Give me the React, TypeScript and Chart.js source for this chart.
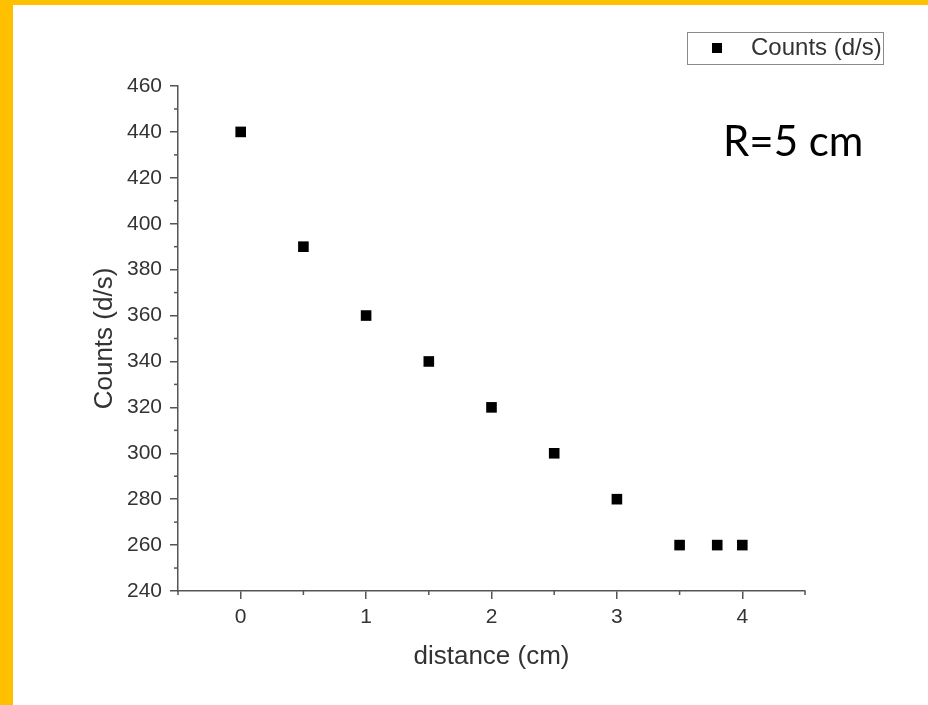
import React, { useEffect, useRef } from "react";
import { Chart, registerables } from "chart.js";

Chart.register(...registerables);

const distances = [0, 0.5, 1, 1.5, 2, 2.5, 3, 3.5, 3.8, 4];
const counts = [440, 390, 360, 340, 320, 300, 280, 260, 260, 260];
const xTickValues = [0, 1, 2, 3, 4];
const xRange = [-0.5, 4.5];
const yRange = [240, 460];
const yStep = 20;
const seriesLabel = "Counts (d/s)";
const xTitle = "distance (cm)";
const yTitle = "Counts (d/s)";
const annotation = "R=5 cm";

const AXIS = "#555555";
const TEXT = "#333333";
const FONT = "'Liberation Sans', Arial, sans-serif";

const decorPlugin = {
  id: "decor",
  beforeDraw(chart: any) {
    const ctx = chart.ctx;
    ctx.save();
    ctx.fillStyle = "#ffffff";
    ctx.fillRect(0, 0, chart.width, chart.height);
    ctx.fillStyle = "#FFC000";
    ctx.fillRect(0, 0, 13, chart.height);
    ctx.fillRect(0, 0, chart.width, 5);
    ctx.restore();
  },
  afterDraw(chart: any) {
    const ctx = chart.ctx;
    const xs = chart.scales.x;
    const ys = chart.scales.y;
    ctx.save();
    ctx.strokeStyle = AXIS;
    ctx.lineWidth = 1.5;
    // minor ticks
    for (let v = yRange[0] + yStep / 2; v < yRange[1]; v += yStep) {
      const py = ys.getPixelForValue(v);
      ctx.beginPath();
      ctx.moveTo(ys.right, py);
      ctx.lineTo(ys.right - 4, py);
      ctx.stroke();
    }
    for (let v = xRange[0]; v <= xRange[1] + 1e-9; v += 1) {
      const px = xs.getPixelForValue(v);
      ctx.beginPath();
      ctx.moveTo(px, xs.top);
      ctx.lineTo(px, xs.top + 4);
      ctx.stroke();
    }
    // legend
    const lx = 687, ly = 32, lw = 196, lh = 32;
    ctx.fillStyle = "#ffffff";
    ctx.fillRect(lx, ly, lw, lh);
    ctx.strokeStyle = "#8a8a8a";
    ctx.lineWidth = 1;
    ctx.strokeRect(lx + 0.5, ly + 0.5, lw, lh);
    ctx.fillStyle = "#000000";
    ctx.fillRect(717 - 5, 48 - 5, 10, 10);
    ctx.fillStyle = TEXT;
    ctx.font = "24px " + FONT;
    ctx.textBaseline = "middle";
    ctx.textAlign = "left";
    ctx.fillText(seriesLabel, 751, 48);
    // annotation
    ctx.fillStyle = "#000000";
    ctx.font = "42px Lato, 'Open Sans', sans-serif";
    ctx.textBaseline = "alphabetic";
    ctx.fillText(annotation, 723, 156);
    ctx.restore();
  },
};

export default function App() {
  const ref = useRef<HTMLCanvasElement>(null);
  useEffect(() => {
    if (!ref.current) return;
    const chart = new Chart(ref.current, {
      type: "scatter",
      data: {
        datasets: [
          {
            label: seriesLabel,
            data: distances.map((d, i) => ({ x: d, y: counts[i] })),
            pointStyle: "rect",
            pointRadius: 7.5,
            pointHoverRadius: 7.5,
            backgroundColor: "#000000",
            borderColor: "#000000",
            borderWidth: 0,
          },
        ],
      },
      options: {
        responsive: false,
        animation: false,
        events: [],
        layout: { padding: { left: 86, top: 86, right: 123, bottom: 0 } },
        plugins: { legend: { display: false }, tooltip: { enabled: false } },
        scales: {
          x: {
            type: "linear",
            min: xRange[0],
            max: xRange[1],
            afterBuildTicks: (s: any) => {
              s.ticks = xTickValues.map((v) => ({ value: v }));
            },
            afterFit: (s: any) => {
              s.height = 114;
            },
            grid: {
              display: true,
              drawOnChartArea: false,
              drawTicks: true,
              tickLength: 8,
              color: AXIS,
              lineWidth: 1.5,
            },
            border: { display: true, color: AXIS, width: 1.5 },
            ticks: {
              padding: 6,
              color: TEXT,
              font: { family: FONT, size: 21 },
            },
            title: {
              display: true,
              text: xTitle,
              color: TEXT,
              font: { family: FONT, size: 26 },
              padding: { top: 0, bottom: 33 },
            },
          },
          y: {
            type: "linear",
            min: yRange[0],
            max: yRange[1],
            ticks: {
              stepSize: yStep,
              padding: 8,
              color: TEXT,
              font: { family: FONT, size: 21 },
            },
            afterFit: (s: any) => {
              s.width = 92;
            },
            grid: {
              display: true,
              drawOnChartArea: false,
              drawTicks: true,
              tickLength: 8,
              color: AXIS,
              lineWidth: 1.5,
            },
            border: { display: true, color: AXIS, width: 1.5 },
            title: {
              display: true,
              text: yTitle,
              color: TEXT,
              font: { family: FONT, size: 26 },
              padding: { top: 3, bottom: 0 },
            },
          },
        },
      },
      plugins: [decorPlugin],
    });
    return () => chart.destroy();
  }, []);
  return (
    <div style={{ position: "fixed", left: 0, top: 0, width: 928, height: 705 }}>
      <canvas ref={ref} width={928} height={705} />
    </div>
  );
}
